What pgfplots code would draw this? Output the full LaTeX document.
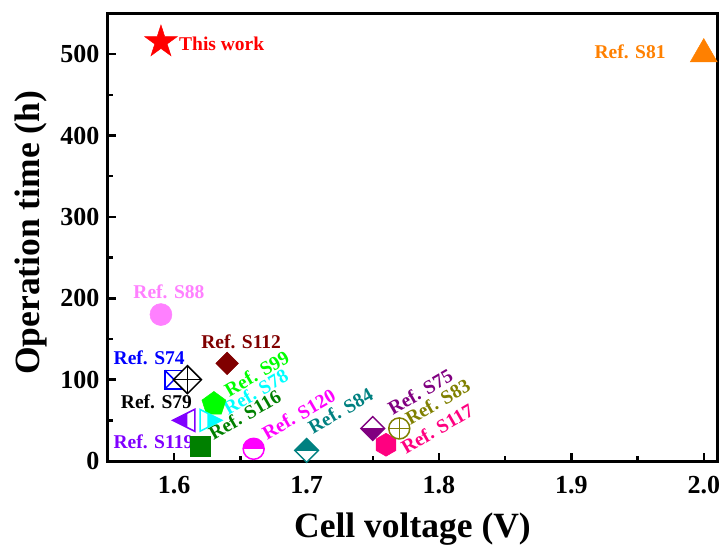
\documentclass[border=0pt]{standalone}
\usepackage{fontspec}
\setmainfont{Liberation Serif}
\usepackage{pgfplots}
\pgfplotsset{compat=1.18}

\definecolor{cWork}{HTML}{FF0000}
\definecolor{cSEightyOne}{HTML}{FF8000}
\definecolor{cSEightyEight}{HTML}{FF80FF}
\definecolor{cSOneTwelve}{HTML}{800000}
\definecolor{cSSeventyFour}{HTML}{0000FF}
\definecolor{cSSeventyNine}{HTML}{000000}
\definecolor{cSNinetyNine}{HTML}{00FF00}
\definecolor{cSSeventyEight}{HTML}{00FFFF}
\definecolor{cSOneSixteen}{HTML}{008000}
\definecolor{cSOneNineteen}{HTML}{8000FF}
\definecolor{cSOneTwenty}{HTML}{FF00FF}
\definecolor{cSEightyFour}{HTML}{008080}
\definecolor{cSSeventyFive}{HTML}{800080}
\definecolor{cSEightyThree}{HTML}{808000}
\definecolor{cSOneSeventeen}{HTML}{FF0080}

% ---- marker outlines (radius = \pgfplotmarksize) ----
\newcommand{\pDiamond}{%
  \pgfpathmoveto{\pgfpoint{0pt}{\pgfplotmarksize}}%
  \pgfpathlineto{\pgfpoint{\pgfplotmarksize}{0pt}}%
  \pgfpathlineto{\pgfpoint{0pt}{-\pgfplotmarksize}}%
  \pgfpathlineto{\pgfpoint{-\pgfplotmarksize}{0pt}}%
  \pgfpathclose}
\newcommand{\pSquare}{%
  \pgfpathrectangle{\pgfpoint{-\pgfplotmarksize}{-\pgfplotmarksize}}%
    {\pgfpoint{2\pgfplotmarksize}{2\pgfplotmarksize}}}
\newcommand{\pCircle}{\pgfpathcircle{\pgfpointorigin}{\pgfplotmarksize}}
\newcommand{\pLeftTri}{%
  \pgfpathmoveto{\pgfpoint{-\pgfplotmarksize}{0pt}}%
  \pgfpathlineto{\pgfpoint{0.5\pgfplotmarksize}{0.75\pgfplotmarksize}}%
  \pgfpathlineto{\pgfpoint{0.5\pgfplotmarksize}{-0.75\pgfplotmarksize}}%
  \pgfpathclose}
\newcommand{\pRightTri}{%
  \pgfpathmoveto{\pgfpoint{\pgfplotmarksize}{0pt}}%
  \pgfpathlineto{\pgfpoint{-0.5\pgfplotmarksize}{0.75\pgfplotmarksize}}%
  \pgfpathlineto{\pgfpoint{-0.5\pgfplotmarksize}{-0.75\pgfplotmarksize}}%
  \pgfpathclose}
% clip regions for half-filled markers
\newcommand{\cTop}{\pgfpathrectangle{\pgfpoint{-2\pgfplotmarksize}{0pt}}{\pgfpoint{4\pgfplotmarksize}{2\pgfplotmarksize}}}
\newcommand{\cBottom}{\pgfpathrectangle{\pgfpoint{-2\pgfplotmarksize}{0pt}}{\pgfpoint{4\pgfplotmarksize}{-2\pgfplotmarksize}}}
\newcommand{\cLeft}{\pgfpathrectangle{\pgfpoint{0pt}{-2\pgfplotmarksize}}{\pgfpoint{-2\pgfplotmarksize}{4\pgfplotmarksize}}}
\newcommand{\cRight}{\pgfpathrectangle{\pgfpoint{0pt}{-2\pgfplotmarksize}}{\pgfpoint{2\pgfplotmarksize}{4\pgfplotmarksize}}}
% half-filled: white body, coloured half, outline
\newcommand{\halfMark}[2]{%
  \pgfscope\pgfsetfillcolor{white}#1\pgfusepath{fill}\endpgfscope
  \pgfscope#2\pgfusepath{clip}#1\pgfusepath{fill}\endpgfscope
  #1\pgfusepath{stroke}}

\pgfdeclareplotmark{fstar}{%
  \pgfpathmoveto{\pgfpointpolar{90}{\pgfplotmarksize}}%
  \pgfpathlineto{\pgfpointpolar{126}{0.382\pgfplotmarksize}}%
  \pgfpathlineto{\pgfpointpolar{162}{\pgfplotmarksize}}%
  \pgfpathlineto{\pgfpointpolar{198}{0.382\pgfplotmarksize}}%
  \pgfpathlineto{\pgfpointpolar{234}{\pgfplotmarksize}}%
  \pgfpathlineto{\pgfpointpolar{270}{0.382\pgfplotmarksize}}%
  \pgfpathlineto{\pgfpointpolar{306}{\pgfplotmarksize}}%
  \pgfpathlineto{\pgfpointpolar{342}{0.382\pgfplotmarksize}}%
  \pgfpathlineto{\pgfpointpolar{18}{\pgfplotmarksize}}%
  \pgfpathlineto{\pgfpointpolar{54}{0.382\pgfplotmarksize}}%
  \pgfpathclose\pgfusepathqfillstroke}
\pgfdeclareplotmark{ftri}{%
  \pgfpathmoveto{\pgfpointpolar{90}{\pgfplotmarksize}}%
  \pgfpathlineto{\pgfpointpolar{210}{\pgfplotmarksize}}%
  \pgfpathlineto{\pgfpointpolar{330}{\pgfplotmarksize}}%
  \pgfpathclose\pgfusepathqfillstroke}
\pgfdeclareplotmark{fpent}{%
  \pgfpathmoveto{\pgfpointpolar{90}{\pgfplotmarksize}}%
  \pgfpathlineto{\pgfpointpolar{162}{\pgfplotmarksize}}%
  \pgfpathlineto{\pgfpointpolar{234}{\pgfplotmarksize}}%
  \pgfpathlineto{\pgfpointpolar{306}{\pgfplotmarksize}}%
  \pgfpathlineto{\pgfpointpolar{18}{\pgfplotmarksize}}%
  \pgfpathclose\pgfusepathqfillstroke}
\pgfdeclareplotmark{fhex}{%
  \pgfpathmoveto{\pgfpointpolar{90}{\pgfplotmarksize}}%
  \pgfpathlineto{\pgfpointpolar{150}{\pgfplotmarksize}}%
  \pgfpathlineto{\pgfpointpolar{210}{\pgfplotmarksize}}%
  \pgfpathlineto{\pgfpointpolar{270}{\pgfplotmarksize}}%
  \pgfpathlineto{\pgfpointpolar{330}{\pgfplotmarksize}}%
  \pgfpathlineto{\pgfpointpolar{30}{\pgfplotmarksize}}%
  \pgfpathclose\pgfusepathqfillstroke}
\pgfdeclareplotmark{fdiam}{\pDiamond\pgfusepathqfillstroke}
\pgfdeclareplotmark{fsq}{\pSquare\pgfusepathqfillstroke}
\pgfdeclareplotmark{sqx}{%
  \pgfscope\pgfsetfillcolor{white}\pSquare\pgfusepath{fill,stroke}\endpgfscope
  \pgfpathmoveto{\pgfpoint{-\pgfplotmarksize}{-\pgfplotmarksize}}%
  \pgfpathlineto{\pgfpoint{\pgfplotmarksize}{\pgfplotmarksize}}%
  \pgfpathmoveto{\pgfpoint{-\pgfplotmarksize}{\pgfplotmarksize}}%
  \pgfpathlineto{\pgfpoint{\pgfplotmarksize}{-\pgfplotmarksize}}%
  \pgfusepath{stroke}}
\pgfdeclareplotmark{diamplus}{%
  \pgfscope\pgfsetfillcolor{white}\pDiamond\pgfusepath{fill,stroke}\endpgfscope
  \pgfpathmoveto{\pgfpoint{0pt}{-\pgfplotmarksize}}%
  \pgfpathlineto{\pgfpoint{0pt}{\pgfplotmarksize}}%
  \pgfpathmoveto{\pgfpoint{-\pgfplotmarksize}{0pt}}%
  \pgfpathlineto{\pgfpoint{\pgfplotmarksize}{0pt}}%
  \pgfusepath{stroke}}
\pgfdeclareplotmark{circplus}{%
  \pgfscope\pgfsetfillcolor{white}\pCircle\pgfusepath{fill,stroke}\endpgfscope
  \pgfpathmoveto{\pgfpoint{0pt}{-\pgfplotmarksize}}%
  \pgfpathlineto{\pgfpoint{0pt}{\pgfplotmarksize}}%
  \pgfpathmoveto{\pgfpoint{-\pgfplotmarksize}{0pt}}%
  \pgfpathlineto{\pgfpoint{\pgfplotmarksize}{0pt}}%
  \pgfusepath{stroke}}
\pgfdeclareplotmark{htriL}{\halfMark{\pLeftTri}{\cLeft}}
\pgfdeclareplotmark{htriR}{\halfMark{\pRightTri}{\cRight}}
\pgfdeclareplotmark{hcircT}{\halfMark{\pCircle}{\cTop}}
\pgfdeclareplotmark{hdiamT}{\halfMark{\pDiamond}{\cTop}}
\pgfdeclareplotmark{hdiamB}{\halfMark{\pDiamond}{\cBottom}}

\newcommand{\lbl}{\fontsize{19.5bp}{22bp}\selectfont\bfseries}

\begin{document}
\begin{tikzpicture}
\begin{axis}[
  name=ax,
  scale only axis,
  width=609bp, height=447.5bp,
  xmin=1.55, xmax=2.01, ymin=0, ymax=550,
  clip=false,
  axis line style={line width=3bp},
  xtick={1.6,1.7,1.8,1.9,2.0},
  minor xtick={1.65,1.75,1.85,1.95},
  ytick={0,100,200,300,400,500},
  minor ytick={50,150,250,350,450},
  xtick pos=bottom, ytick pos=left,
  tick align=inside,
  major tick length=8bp, minor tick length=5bp,
  every tick/.style={black, line width=2.5bp},
  /pgf/number format/assume math mode=true,
  ticklabel style={font=\fontsize{26bp}{29bp}\selectfont\bfseries},
  xticklabel style={yshift=-12bp, /pgf/number format/.cd, fixed, fixed zerofill, precision=1},
  yticklabel style={xshift=-5bp, /pgf/number format/fixed},
  xlabel={Cell voltage (V)},
  ylabel={Operation time (h)},
  every axis x label/.style={at={(axis description cs:0.5,-0.170)}, anchor=base},
  every axis y label/.style={at={(axis description cs:-0.113,0.51)}, anchor=base, rotate=90},
  label style={font=\fontsize{35.5bp}{40bp}\selectfont\bfseries},
  mark options={solid, line join=miter},
]
% This work
\addplot[only marks, mark=fstar, mark size=17bp, draw=cWork, fill=cWork, line width=0.5bp]
  coordinates {(1.59,515)};
% Ref. S81
\addplot[only marks, mark=ftri, mark size=15.6bp, draw=cSEightyOne, fill=cSEightyOne, line width=0.5bp]
  coordinates {(2.00,500)};
% Ref. S88
\addplot[only marks, mark=*, mark size=11bp, draw=cSEightyEight, fill=cSEightyEight, line width=0.5bp]
  coordinates {(1.59,180)};
% Ref. S112
\addplot[only marks, mark=fdiam, mark size=11.3bp, draw=cSOneTwelve, fill=cSOneTwelve, line width=0.5bp]
  coordinates {(1.64,120)};
% Ref. S74
\addplot[only marks, mark=sqx, mark size=9.3bp, draw=cSSeventyFour, line width=1.5bp]
  coordinates {(1.60,100)};
% Ref. S79
\addplot[only marks, mark=diamplus, mark size=14bp, draw=cSSeventyNine, line width=1.5bp]
  coordinates {(1.61,100)};
% Ref. S99
\addplot[only marks, mark=fpent, mark size=12.6bp, draw=cSNinetyNine, fill=cSNinetyNine, line width=0.5bp]
  coordinates {(1.63,70)};
% Ref. S119
\addplot[only marks, mark=htriL, mark size=14.7bp, draw=cSOneNineteen, fill=cSOneNineteen, line width=1.5bp]
  coordinates {(1.61,50)};
% Ref. S78
\addplot[only marks, mark=htriR, mark size=14.5bp, draw=cSSeventyEight, fill=cSSeventyEight, line width=1.5bp]
  coordinates {(1.625,50)};
% Ref. S116
\addplot[only marks, mark=fsq, mark size=10bp, draw=cSOneSixteen, fill=cSOneSixteen, line width=0.5bp]
  coordinates {(1.62,18)};
% Ref. S120
\addplot[only marks, mark=hcircT, mark size=10.5bp, draw=cSOneTwenty, fill=cSOneTwenty, line width=1.5bp]
  coordinates {(1.66,15)};
% Ref. S84
\addplot[only marks, mark=hdiamT, mark size=11.8bp, draw=cSEightyFour, fill=cSEightyFour, line width=1.5bp]
  coordinates {(1.70,13)};
% Ref. S75
\addplot[only marks, mark=hdiamB, mark size=11.8bp, draw=cSSeventyFive, fill=cSSeventyFive, line width=1.5bp]
  coordinates {(1.75,40)};
% Ref. S117
\addplot[only marks, mark=fhex, mark size=11.5bp, draw=cSOneSeventeen, fill=cSOneSeventeen, line width=0.5bp]
  coordinates {(1.76,20)};
% Ref. S83
\addplot[only marks, mark=circplus, mark size=10.5bp, draw=cSEightyThree, line width=1.5bp]
  coordinates {(1.77,40)};

% point labels
\node[anchor=west, inner sep=0, text=cWork, font=\lbl] at ([xshift=18bp, yshift=-2bp]axis cs:1.59,515) {This work};
\node[anchor=east, inner sep=0, text=cSEightyOne, font=\lbl] at ([xshift=-38bp, yshift=2bp]axis cs:2.00,500) {Ref. S81};
\node[inner sep=0, text=cSEightyEight, font=\lbl] at ([xshift=8bp, yshift=23bp]axis cs:1.59,180) {Ref. S88};
\node[inner sep=0, text=cSOneTwelve, font=\lbl] at ([xshift=14bp, yshift=21.5bp]axis cs:1.64,120) {Ref. S112};
\node[inner sep=0, text=cSSeventyFour, font=\lbl] at ([xshift=-25bp, yshift=22bp]axis cs:1.60,100) {Ref. S74};
\node[inner sep=0, text=cSSeventyNine, font=\lbl] at ([xshift=-31bp, yshift=-22bp]axis cs:1.61,100) {Ref. S79};
\node[inner sep=0, text=cSOneNineteen, font=\lbl] at ([xshift=-34bp, yshift=-21.5bp]axis cs:1.61,50) {Ref. S119};
\node[anchor=west, rotate=30, inner sep=0, text=cSNinetyNine, font=\lbl] at ([xshift=12bp, yshift=12.7bp]axis cs:1.63,70) {Ref. S99};
\node[anchor=west, rotate=30, inner sep=0, text=cSSeventyEight, font=\lbl] at ([xshift=17.5bp, yshift=10.6bp]axis cs:1.625,50) {Ref. S78};
\node[anchor=west, rotate=30, inner sep=0, text=cSOneSixteen, font=\lbl] at ([xshift=9.5bp, yshift=11.7bp]axis cs:1.62,18) {Ref. S116};
\node[anchor=west, rotate=30, inner sep=0, text=cSOneTwenty, font=\lbl] at ([xshift=10bp, yshift=14.2bp]axis cs:1.66,15) {Ref. S120};
\node[anchor=west, rotate=30, inner sep=0, text=cSEightyFour, font=\lbl] at ([xshift=3bp, yshift=21.8bp]axis cs:1.70,13) {Ref. S84};
\node[anchor=west, rotate=30, inner sep=0, text=cSSeventyFive, font=\lbl] at ([xshift=16.5bp, yshift=18.8bp]axis cs:1.75,40) {Ref. S75};
\node[anchor=west, rotate=30, inner sep=0, text=cSEightyThree, font=\lbl] at ([xshift=7.5bp, yshift=8.8bp]axis cs:1.77,40) {Ref. S83};
\node[anchor=west, rotate=30, inner sep=0, text=cSOneSeventeen, font=\lbl] at ([xshift=16.5bp, yshift=-4bp]axis cs:1.76,20) {Ref. S117};
\end{axis}
\pgfresetboundingbox
\path[use as bounding box] ([shift={(-108bp,-86bp)}]ax.south west) rectangle ([shift={(616bp,461bp)}]ax.south west);
\end{tikzpicture}
\end{document}
